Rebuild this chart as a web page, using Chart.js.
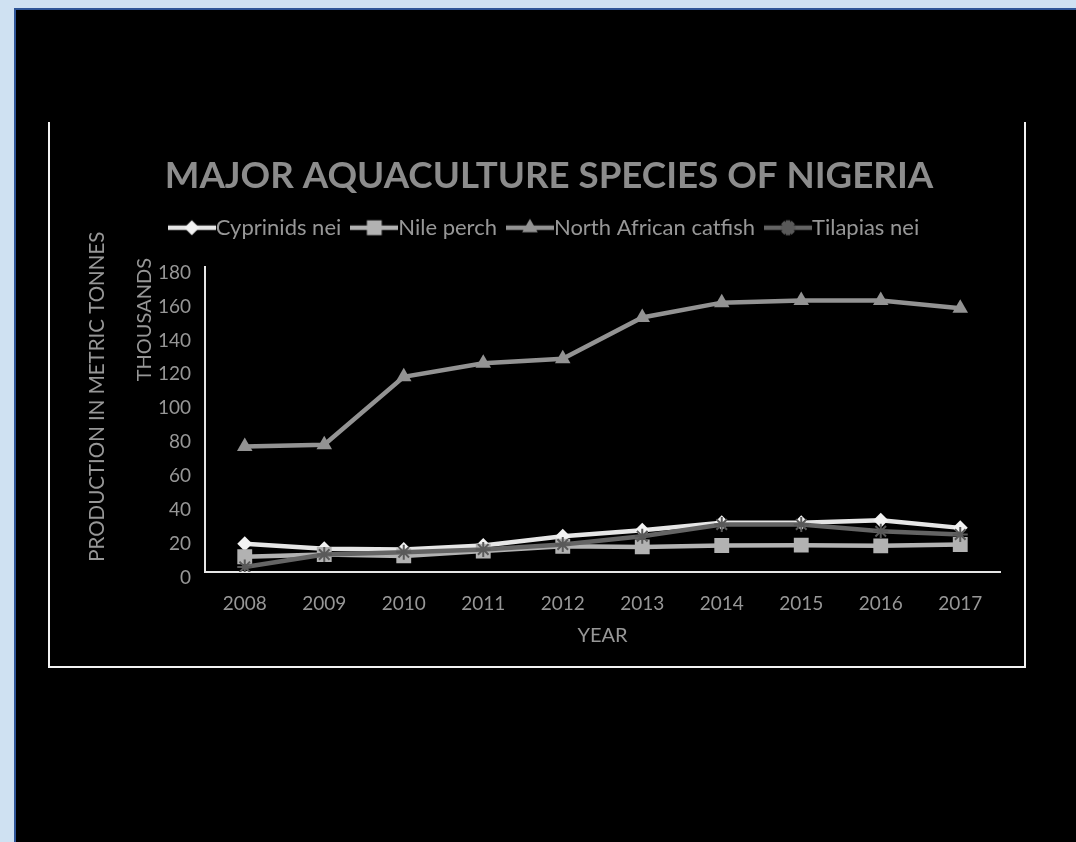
<!DOCTYPE html>
<html>
<head>
<meta charset="utf-8">
<script src="https://cdn.jsdelivr.net/npm/chart.js@4.4.1/dist/chart.umd.min.js"></script>
<style>
  html, body { margin: 0; padding: 0; }
  body { width: 1076px; height: 842px; background: #cfe1f2; position: relative; overflow: hidden; }
  #panel { position: absolute; left: 14px; top: 8px; right: 0; bottom: 0; background: #000;
           border-left: 2px solid #2f5597; border-top: 2px solid #2f5597; }
  #frame { position: absolute; left: 48px; top: 122px; width: 974px; height: 544px;
           border-left: 2px solid #f2f2f2; border-right: 2px solid #f2f2f2; border-bottom: 2px solid #f2f2f2; }
  #c { position: absolute; left: 0; top: 0; }
</style>
</head>
<body>
<div id="panel"></div>
<div id="frame"></div>
<canvas id="c" width="1076" height="842"></canvas>
<script>
// ---- data (thousand metric tonnes) ----
const years = ['2008', '2009', '2010', '2011', '2012', '2013', '2014', '2015', '2016', '2017'];
const cyprinids = [16.6, 13.7, 13.3, 15.6, 21.1, 24.6, 29.0, 29.0, 30.5, 26.0];
const nilePerch = [9.0, 10.3, 9.5, 12.3, 15.2, 14.8, 15.6, 15.8, 15.4, 16.2];
const catfish   = [74.0, 75.0, 115.0, 123.0, 125.7, 150.0, 158.7, 160.0, 160.0, 155.4];
const tilapias  = [3.0, 10.3, 11.7, 13.3, 16.2, 21.1, 28.0, 28.0, 24.0, 22.1];
const seriesNames = ['Cyprinids nei', 'Nile perch', 'North African catfish', 'Tilapias nei'];
const yTicks = [0, 20, 40, 60, 80, 100, 120, 140, 160, 180];

const FONT = 'Lato, "Open Sans", sans-serif';
const TEXT = '#979797';
const LEG_FONT = 22;

function legendImage(ds, w) {
  const cv = document.createElement('canvas');
  cv.width = w; cv.height = 22;
  const ctx = cv.getContext('2d');
  ctx.strokeStyle = ds.borderColor;
  ctx.lineWidth = 4.5;
  ctx.beginPath(); ctx.moveTo(0, 11); ctx.lineTo(w, 11); ctx.stroke();
  ctx.fillStyle = ds.pointBackgroundColor;
  ctx.strokeStyle = ds.pointBorderColor;
  Chart.helpers.drawPoint(ctx, {
    pointStyle: ds.pointStyle, radius: ds.pointRadius, rotation: 0,
    borderWidth: ds.pointBorderWidth
  }, w / 2, 11);
  return cv;
}

// shift the two left-hand axis titles to where the reference puts them
const titleShift = {
  id: 'titleShift',
  afterLayout(chart) {
    const t = chart.scales.yTitle; if (t) t.top -= 45;
    const u = chart.scales.yUnits; if (u) { u.top -= 8.5; }
  }
};

function build() {
  const datasets = [
    { label: seriesNames[0], data: cyprinids, borderColor: '#e6e6e6', backgroundColor: '#f2f2f2',
      pointBackgroundColor: '#f2f2f2', pointBorderColor: '#f2f2f2', pointBorderWidth: 0,
      pointStyle: 'rectRot', pointRadius: 7.5, borderWidth: 4.5, order: 4 },
    { label: seriesNames[1], data: nilePerch, borderColor: '#b2b2b2', backgroundColor: '#b2b2b2',
      pointBackgroundColor: '#b2b2b2', pointBorderColor: '#b2b2b2', pointBorderWidth: 0,
      pointStyle: 'rect', pointRadius: 10.5, borderWidth: 4.5, order: 3 },
    { label: seriesNames[2], data: catfish, borderColor: '#939393', backgroundColor: '#939393',
      pointBackgroundColor: '#939393', pointBorderColor: '#939393', pointBorderWidth: 0,
      pointStyle: 'triangle', pointRadius: 9, borderWidth: 4.5, order: 2 },
    { label: seriesNames[3], data: tilapias, borderColor: '#646464', backgroundColor: '#646464',
      pointBackgroundColor: '#595959', pointBorderColor: '#595959', pointBorderWidth: 2,
      pointStyle: 'star', pointRadius: 7.5, borderWidth: 4.5, order: 1 }
  ];
  datasets.forEach(d => { d.tension = 0; d.fill = false; d.pointHoverRadius = d.pointRadius; });

  new Chart(document.getElementById('c'), {
    type: 'line',
    data: { labels: years, datasets },
    plugins: [titleShift],
    options: {
      responsive: false,
      animation: false,
      devicePixelRatio: 1,
      layout: { padding: { left: 98, right: 76, top: 0, bottom: 190 } },
      plugins: {
        tooltip: { enabled: false },
        title: {
          display: true,
          text: 'MAJOR AQUACULTURE SPECIES OF NIGERIA',
          color: '#8c8c8c',
          font: { family: FONT, size: 36.7, weight: 'bold' },
          padding: { top: 154, bottom: -1.3 }
        },
        legend: {
          display: true,
          position: 'top',
          labels: {
            color: TEXT,
            font: { family: FONT, size: LEG_FONT },
            usePointStyle: true,
            pointStyleWidth: 26,
            padding: 20,
            generateLabels: (chart) => chart.data.datasets.map((ds, i) => ({
              text: ds.label,
              fillStyle: ds.borderColor,
              strokeStyle: ds.borderColor,
              lineWidth: 0,
              fontColor: TEXT,
              pointStyle: legendImage(ds, 48),
              hidden: false,
              datasetIndex: i
            }))
          }
        }
      },
      scales: {
        x: {
          offset: true,
          grid: { display: false, drawTicks: false, offset: true },
          border: { display: true, color: '#e6e6e6', width: 2 },
          ticks: { color: TEXT, font: { family: FONT, size: 19 }, padding: 20, maxRotation: 0 },
          title: { display: true, text: 'YEAR', color: TEXT, font: { family: FONT, size: 20 },
                   padding: { top: 0, bottom: 4 } },
          afterFit: (s) => { s.height = 80; }
        },
        xSpacer: {
          type: 'linear', position: 'top', min: 0, max: 1,
          grid: { display: false, drawTicks: false },
          border: { display: false },
          ticks: { display: false },
          afterFit: (s) => { s.height = 17.76; }
        },
        y: {
          min: 0, max: 180,
          weight: 0,
          grid: { display: false, drawTicks: false },
          border: { display: true, color: '#e6e6e6', width: 2 },
          afterBuildTicks: (s) => { s.ticks = yTicks.map(v => ({ value: v })); },
          ticks: { color: TEXT, font: { family: FONT, size: 19 }, padding: 14, labelOffset: 6 },
          afterFit: (s) => { s.width = 47; }
        },
        yUnits: {
          position: 'left', weight: 1, min: 0, max: 1,
          grid: { display: false, drawTicks: false },
          border: { display: false },
          ticks: { display: false },
          title: { display: true, text: 'THOUSANDS', align: 'end', color: TEXT,
                   font: { family: FONT, size: 20 }, padding: { top: 1, bottom: 0 } },
          afterFit: (s) => { s.width = 26; }
        },
        yTitle: {
          position: 'left', weight: 2, min: 0, max: 1,
          grid: { display: false, drawTicks: false },
          border: { display: false },
          ticks: { display: false },
          title: { display: true, text: 'PRODUCTION IN METRIC TONNES', color: TEXT,
                   font: { family: FONT, size: 20.5 }, padding: { top: -13, bottom: 0 } },
          afterFit: (s) => { s.width = 34; }
        }
      }
    }
  });
}

if (document.fonts && document.fonts.load) {
  Promise.all([document.fonts.load('19px Lato'), document.fonts.load('bold 34px Lato')])
    .then(build, build);
} else { build(); }
</script>
</body>
</html>
